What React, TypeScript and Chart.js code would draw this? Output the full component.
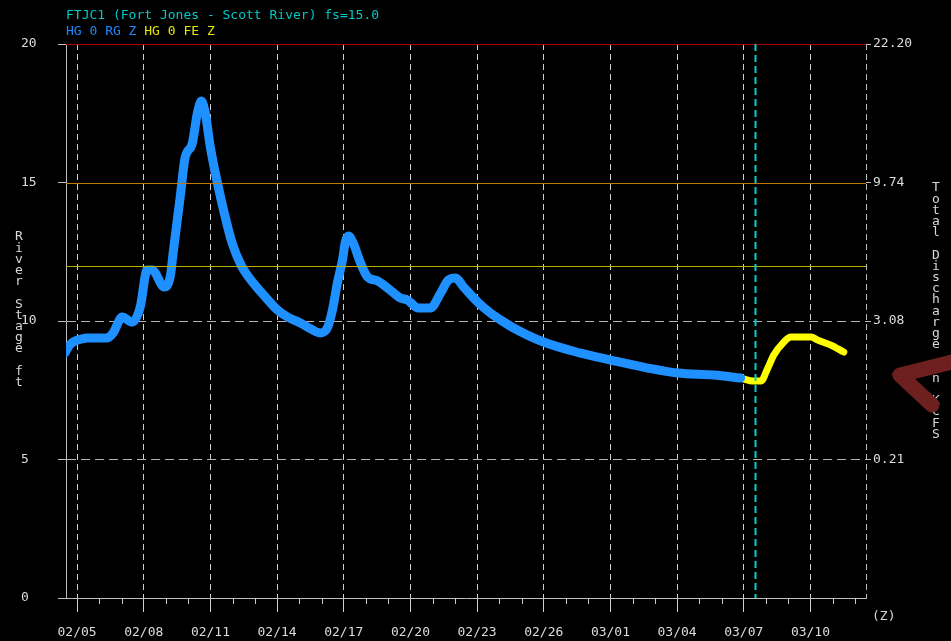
import React, { useEffect, useRef } from 'react';
import { Chart, registerables } from 'chart.js';

Chart.register(...registerables);

// Days counted from 02/05 00Z
const obsDays = [-0.54, -0.36, -0.18, 0.2, 0.45, 1.35, 1.62, 2.03, 2.48, 2.84, 3.15, 3.38, 3.92, 4.19, 4.32, 4.64, 4.86, 5.18, 5.41, 5.59, 5.77, 5.99, 6.31, 6.62, 6.98, 7.39, 7.93, 8.47, 9.01, 9.5, 10.05, 10.5, 10.95, 11.26, 11.49, 11.71, 11.94, 12.07, 12.21, 12.43, 12.75, 13.06, 13.51, 13.96, 14.55, 14.86, 15.36, 15.9, 16.35, 16.71, 17.03, 17.39, 18.02, 18.6, 19.05, 19.64, 20.99, 22.66, 24.01, 25.68, 27.03, 28.65, 29.86];
const obsStage = [8.85, 9.1, 9.24, 9.35, 9.39, 9.39, 9.57, 10.14, 9.96, 10.5, 11.84, 11.84, 11.23, 11.6, 12.45, 14.48, 15.9, 16.4, 17.5, 17.94, 17.5, 16.3, 15.0, 13.9, 12.8, 12.0, 11.37, 10.87, 10.4, 10.13, 9.93, 9.72, 9.57, 9.75, 10.4, 11.37, 12.2, 12.85, 13.07, 12.8, 12.1, 11.6, 11.45, 11.2, 10.83, 10.76, 10.47, 10.47, 11.0, 11.48, 11.55, 11.23, 10.69, 10.29, 10.04, 9.75, 9.24, 8.84, 8.59, 8.3, 8.12, 8.05, 7.94];

const fcstDays = [29.86, 30.45, 30.77, 31.08, 31.35, 31.76, 32.12, 33.02, 33.33, 33.92, 34.5];
const fcstStage = [7.94, 7.83, 7.83, 8.3, 8.77, 9.2, 9.42, 9.42, 9.31, 9.13, 8.88];

const dateLabels = ['02/05', '02/08', '02/11', '02/14', '02/17', '02/20', '02/23', '02/26', '03/01', '03/04', '03/07', '03/10'];
const dayTicks = Array.from({ length: 36 }, (_, i) => i);
const stageTicks = [0, 5, 10, 15, 20];
const flowLabels = ['', '0.21', '3.08', '9.74', '22.20'];
const nowDay = 30.5;
const floodStage = 20;
const warnStage = 15;
const monitorStage = 12;

const FONT = '"DejaVu Sans Mono", monospace';

const overlay = {
  id: 'overlay',
  afterDatasetsDraw(chart: any) {
    const { ctx, chartArea, scales } = chart;
    const { left, right, top, bottom } = chartArea;
    const y = scales.y;
    const x = scales.x;
    ctx.save();
    const hl = (v: number, c: string) => {
      const py = Math.round(y.getPixelForValue(v)) + 0.5;
      ctx.strokeStyle = c;
      ctx.lineWidth = 1;
      ctx.beginPath();
      ctx.moveTo(left, py);
      ctx.lineTo(right, py);
      ctx.stroke();
    };
    hl(monitorStage, '#b4b400');
    hl(warnStage, '#bf7a0a');
    hl(floodStage, '#b00000');
    const nx = Math.round(x.getPixelForValue(nowDay)) + 0.5;
    ctx.strokeStyle = '#00d0d0';
    ctx.lineWidth = 2;
    ctx.setLineDash([7, 4]);
    ctx.beginPath();
    ctx.moveTo(nx, top);
    ctx.lineTo(nx, bottom);
    ctx.stroke();
    ctx.restore();
  },
  afterDraw(chart: any) {
    const { ctx, chartArea, scales } = chart;
    const { right, top, bottom } = chartArea;
    const x = scales.x;
    ctx.save();
    ctx.strokeStyle = '#bdbdbd';
    ctx.lineWidth = 1;
    ctx.setLineDash([6, 4]);
    ctx.beginPath();
    ctx.moveTo(Math.round(right) + 0.5, top);
    ctx.lineTo(Math.round(right) + 0.5, bottom);
    ctx.stroke();
    ctx.setLineDash([]);
    ctx.strokeStyle = '#c8c8c8';
    for (const d of dayTicks) {
      if (d % 3 === 0) continue;
      const px = Math.round(x.getPixelForValue(d)) + 0.5;
      ctx.beginPath();
      ctx.moveTo(px, bottom);
      ctx.lineTo(px, bottom + 6);
      ctx.stroke();
    }
    ctx.font = '13px ' + FONT;
    ctx.textBaseline = 'middle';
    ctx.textAlign = 'left';
    ctx.fillStyle = '#00c8c8';
    ctx.fillText('FTJC1 (Fort Jones - Scott River) fs=15.0', 66, 16);
    ctx.fillStyle = '#1e88ff';
    const s1 = 'HG 0 RG Z ';
    ctx.fillText(s1, 66, 32);
    ctx.fillStyle = '#e6e600';
    ctx.fillText('HG 0 FE Z', 66 + ctx.measureText(s1).width, 32);
    ctx.fillStyle = '#d8d8d8';
    ctx.fillText('(Z)', 872, 617);
    ctx.textAlign = 'center';
    const stack = (txt: string, cx: number, cy: number, step: number) => {
      for (let i = 0; i < txt.length; i++) {
        ctx.fillText(txt[i], cx, cy + i * step);
      }
    };
    stack('River Stage ft', 19, 237, 11.2);
    stack('Total Discharge in KCFS', 936, 188, 11.2);
    // arrow annotation
    ctx.strokeStyle = '#6e2020';
    ctx.fillStyle = '#6e2020';
    ctx.lineWidth = 15;
    ctx.lineCap = 'round';
    ctx.lineJoin = 'round';
    ctx.beginPath();
    ctx.moveTo(952, 362);
    ctx.lineTo(900, 375);
    ctx.lineTo(932, 405);
    ctx.stroke();
    ctx.beginPath();
    ctx.moveTo(891, 374);
    ctx.lineTo(915, 364);
    ctx.lineTo(912, 392);
    ctx.closePath();
    ctx.fill();
    ctx.restore();
  },
};

export default function App() {
  const ref = useRef<HTMLCanvasElement>(null);
  useEffect(() => {
    if (!ref.current) return;
    const chart = new Chart(ref.current, {
      type: 'line',
      data: {
        datasets: [
          {
            data: obsDays.map((d, i) => ({ x: d, y: obsStage[i] })),
            borderColor: '#1e90ff',
            borderWidth: 9,
            pointRadius: 0,
            cubicInterpolationMode: 'monotone',
            borderCapStyle: 'round',
            borderJoinStyle: 'round',
            xAxisID: 'x',
            yAxisID: 'y',
          },
          {
            data: fcstDays.map((d, i) => ({ x: d, y: fcstStage[i] })),
            borderColor: '#ffff00',
            borderWidth: 7,
            pointRadius: 0,
            cubicInterpolationMode: 'monotone',
            borderCapStyle: 'round',
            borderJoinStyle: 'round',
            xAxisID: 'x',
            yAxisID: 'y',
          },
        ],
      },
      options: {
        responsive: false,
        animation: false,
        events: [],
        layout: { padding: { left: 21, top: 44, right: 0, bottom: 0 } },
        plugins: { legend: { display: false }, tooltip: { enabled: false }, title: { display: false } },
        scales: {
          x: {
            type: 'linear',
            position: 'bottom',
            min: -0.5,
            max: 35.5,
            z: 1,
            afterBuildTicks: (axis: any) => {
              axis.ticks = dayTicks.map((v) => ({ value: v }));
            },
            afterFit: (axis: any) => {
              axis.height = 43;
            },
            ticks: {
              autoSkip: false,
              maxRotation: 0,
              minRotation: 0,
              padding: 13,
              color: '#dcdcdc',
              font: { family: FONT, size: 13 },
              callback: (v: any) => (Number(v) % 3 === 0 ? dateLabels[Number(v) / 3] : ''),
            },
            grid: {
              color: (c: any) => (c.tick && c.tick.value % 3 === 0 ? '#d0d0d0' : 'rgba(0,0,0,0)'),
              tickColor: (c: any) => (c.tick && c.tick.value % 3 === 0 ? '#d0d0d0' : 'rgba(0,0,0,0)'),
              tickLength: 14,
              lineWidth: 1,
            },
            border: { display: true, color: '#bdbdbd', width: 1, dash: [6, 4] },
          },
          y: {
            type: 'linear',
            position: 'left',
            min: 0,
            max: 20,
            z: 1,
            afterBuildTicks: (axis: any) => {
              axis.ticks = stageTicks.map((v) => ({ value: v }));
            },
            afterFit: (axis: any) => {
              axis.width = 45;
            },
            ticks: {
              crossAlign: 'far',
              color: '#dcdcdc',
              font: { family: FONT, size: 13 },
              callback: (v: any) => String(v),
            },
            grid: {
              color: (c: any) => (c.tick && (c.tick.value === 5 || c.tick.value === 10) ? '#b4b4b4' : 'rgba(0,0,0,0)'),
              tickColor: '#bdbdbd',
              tickLength: 8,
              lineWidth: 1,
            },
            border: { display: true, color: '#bdbdbd', width: 1, dash: [9, 5] },
          },
          y1: {
            type: 'linear',
            position: 'right',
            min: 0,
            max: 20,
            afterBuildTicks: (axis: any) => {
              axis.ticks = stageTicks.map((v) => ({ value: v }));
            },
            afterFit: (axis: any) => {
              axis.width = 85;
            },
            ticks: {
              padding: 2,
              color: '#dcdcdc',
              font: { family: FONT, size: 13 },
              callback: (v: any) => flowLabels[Number(v) / 5],
            },
            grid: {
              drawOnChartArea: false,
              tickColor: (c: any) => (c.tick && c.tick.value > 0 ? '#bdbdbd' : 'rgba(0,0,0,0)'),
              tickLength: 5,
            },
            border: { display: false },
          },
        },
      },
      plugins: [overlay],
    } as any);
    return () => chart.destroy();
  }, []);
  return (
    <div style={{ position: 'absolute', left: 0, top: 0, width: 951, height: 641, background: '#000' }}>
      <canvas ref={ref} width={951} height={641} style={{ display: 'block', background: '#000' }} />
    </div>
  );
}
